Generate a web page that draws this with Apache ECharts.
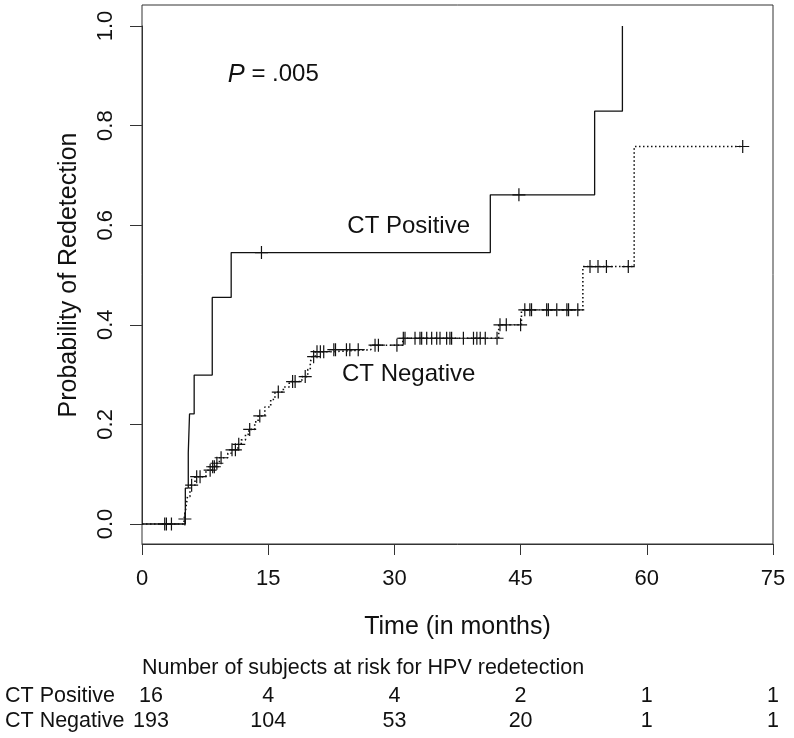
<!DOCTYPE html>
<html><head><meta charset="utf-8">
<script src="https://cdn.jsdelivr.net/npm/echarts@6/dist/echarts.min.js"></script>
<style>html,body{margin:0;padding:0;background:#fff}#c{width:794px;height:738px}</style>
</head><body><div id="c"></div>
<script>
// ---- data ----
const xTicks = [0, 15, 30, 45, 60, 75];
const yTicks = [0, 0.2, 0.4, 0.6, 0.8, 1.0];

// CT Positive Kaplan-Meier steps [time, cumulative probability]
const posSteps = [[0,0],[5.15,0.072],[5.5,0.143],[5.65,0.221],[6.2,0.299],[8.35,0.455],[10.6,0.545],[41.4,0.661],[53.8,0.829],[57.1,1.0]];
const posCensor = [[14.2,0.545],[44.8,0.661]];

// CT Negative Kaplan-Meier steps
const negSteps = [[0,0],[5.0,0.01],[5.2,0.03],[5.4,0.055],[5.7,0.078],[6.3,0.095],[7.6,0.108],[8.3,0.115],[8.8,0.122],[9.2,0.133],[10.2,0.142],[10.6,0.149],[11.4,0.16],[11.8,0.169],[12.3,0.18],[12.7,0.19],[13.4,0.205],[13.8,0.217],[14.6,0.235],[15.3,0.25],[15.8,0.265],[16.8,0.275],[17.5,0.286],[19.0,0.296],[19.7,0.31],[20.0,0.325],[20.2,0.336],[20.6,0.346],[22.6,0.350],[27.2,0.359],[31.0,0.373],[42.4,0.40],[45.1,0.43],[52.4,0.517],[58.5,0.758],[71.4,0.758]];
const negCensor = [
  [2.7,0],[2.9,0],[3.5,0],[5.1,0.01],[5.9,0.078],[6.5,0.095],[6.9,0.095],
  [8.1,0.108],[8.4,0.115],[8.6,0.115],[8.9,0.122],[9.4,0.133],[10.7,0.149],[11.1,0.149],[11.5,0.16],
  [12.8,0.19],[14.0,0.217],[16.2,0.265],[17.9,0.286],[18.2,0.286],[19.4,0.296],[20.4,0.336],
  [20.8,0.346],[21.2,0.346],[21.6,0.346],[22.8,0.35],[23.0,0.35],[24.3,0.35],[24.7,0.35],[25.7,0.35],
  [27.7,0.359],[28.1,0.359],[30.3,0.359],
  [31.06,0.373],[31.26,0.373],[32.45,0.373],[33.04,0.373],[33.24,0.373],[33.84,0.373],[34.43,0.373],
  [35.03,0.373],[35.42,0.373],[36.21,0.373],[36.6,0.373],[36.8,0.373],[38.2,0.373],[39.4,0.373],
  [39.8,0.373],[40.2,0.373],[40.8,0.373],[42.2,0.373],
  [42.55,0.40],[43.3,0.40],[45.0,0.40],
  [45.5,0.43],[46.1,0.43],[46.3,0.43],[48.1,0.43],[48.3,0.43],[49.3,0.43],[50.5,0.43],[50.7,0.43],[51.8,0.43],
  [53.25,0.517],[54.2,0.517],[55.2,0.517],[57.8,0.517],[71.4,0.758]
];

// annotations [time, probability, text]
const annotations = [[15.6,0.902,'{i|P} = .005'],[31.7,0.598,'CT Positive'],[31.7,0.301,'CT Negative']];

// number at risk table
const riskTitle = 'Number of subjects at risk for HPV redetection';
const riskGroups = ['CT Positive', 'CT Negative'];
const riskTimes = [0, 15, 30, 45, 60, 75];
const riskPos = [16, 4, 4, 2, 1, 1];
const riskNeg = [193, 104, 53, 20, 1, 1];

// ---- chart ----
const FONT = '"Liberation Sans", Arial, Helvetica, sans-serif';
const INK = '#111111';
const plus = 'path://M0,-1L0,1M-1,0L1,0';

const riskData = [];
riskTimes.forEach((t, i) => {
  const off = t === 0 ? [9, 0] : [0, 0];
  riskData.push({value: [t, riskGroups[0]], name: String(riskPos[i]), label: {offset: off}});
  riskData.push({value: [t, riskGroups[1]], name: String(riskNeg[i]), label: {offset: off}});
});

const chart = echarts.init(document.getElementById('c'), null, {renderer: 'canvas'});
chart.setOption({
  animation: false,
  backgroundColor: '#fff',
  textStyle: {fontFamily: FONT, color: INK},
  title: {
    text: riskTitle, left: 137, top: 652,
    textStyle: {fontFamily: FONT, fontSize: 21.5, fontWeight: 'normal', color: INK}
  },
  grid: [
    {left: 142, right: 21, top: 26, bottom: 214},
    {left: 142, right: 21, top: 5, bottom: 194, show: true, borderColor: '#333', borderWidth: 1, backgroundColor: 'transparent', z: 0},
    {left: 142, right: 21, top: 684, height: 50}
  ],
  xAxis: [
    {type: 'value', gridIndex: 0, min: 0, max: 75, interval: 15, offset: 20,
     axisLine: {show: true, onZero: false, lineStyle: {color: '#333', width: 1}},
     axisTick: {show: true, length: 11, lineStyle: {color: '#333'}},
     splitLine: {show: false},
     axisLabel: {fontSize: 22, color: INK, margin: 24, fontFamily: FONT},
     name: 'Time (in months)', nameLocation: 'middle', nameGap: 71,
     nameTextStyle: {fontSize: 25, color: INK, fontFamily: FONT}},
    {type: 'value', gridIndex: 1, min: 0, max: 1, show: false},
    {type: 'value', gridIndex: 2, min: 0, max: 75, show: false}
  ],
  yAxis: [
    {type: 'value', gridIndex: 0, min: 0, max: 1, interval: 0.2,
     axisLine: {show: true, onZero: false, lineStyle: {color: '#333', width: 1}},
     axisTick: {show: true, length: 12, lineStyle: {color: '#333'}},
     splitLine: {show: false},
     axisLabel: {fontSize: 22, color: INK, rotate: 90, margin: 25, fontFamily: FONT,
                 formatter: v => v.toFixed(1)},
     name: 'Probability of Redetection', nameLocation: 'middle', nameGap: 60, nameRotate: 90,
     nameTextStyle: {fontSize: 25, color: INK, fontFamily: FONT}},
    {type: 'value', gridIndex: 1, min: 0, max: 1, show: false},
    {type: 'category', gridIndex: 2, data: riskGroups, inverse: true,
     axisLine: {show: false}, axisTick: {show: false},
     axisLabel: {interval: 0, hideOverlap: false, align: 'left', margin: 137, fontSize: 21.5, color: INK, fontFamily: FONT}}
  ],
  series: [
    {type: 'line', name: 'CT Positive', xAxisIndex: 0, yAxisIndex: 0, data: posSteps, step: 'end',
     showSymbol: false, symbol: 'none', clip: false,
     lineStyle: {color: INK, width: 1.3, type: 'solid'}, z: 3},
    {type: 'line', name: 'CT Negative', xAxisIndex: 0, yAxisIndex: 0, data: negSteps, step: 'end',
     showSymbol: false, symbol: 'none', clip: false,
     lineStyle: {color: INK, width: 1.6, type: [1.5, 2.5]}, z: 3},
    {type: 'scatter', xAxisIndex: 0, yAxisIndex: 0, data: posCensor, symbol: plus, symbolSize: 13,
     itemStyle: {color: 'none', borderColor: INK, borderWidth: 1.2, opacity: 1}, z: 4},
    {type: 'scatter', xAxisIndex: 0, yAxisIndex: 0, data: negCensor, symbol: plus, symbolSize: 13,
     itemStyle: {color: 'none', borderColor: INK, borderWidth: 1.2, opacity: 1}, z: 4},
    {type: 'scatter', xAxisIndex: 0, yAxisIndex: 0, symbolSize: 1,
     itemStyle: {color: 'rgba(0,0,0,0)', opacity: 1},
     data: annotations.map(a => ({value: [a[0], a[1]], name: a[2]})),
     label: {show: true, position: 'inside', formatter: p => p.name, fontSize: 24, color: INK, fontFamily: FONT,
             rich: {i: {fontStyle: 'italic', fontSize: 25.5, color: INK, fontFamily: FONT},
                    '': {fontSize: 25.5}}},
     z: 5},
    {type: 'scatter', xAxisIndex: 2, yAxisIndex: 2, symbolSize: 1,
     itemStyle: {color: 'rgba(0,0,0,0)', opacity: 1},
     data: riskData,
     label: {show: true, position: 'inside', formatter: p => p.name, fontSize: 21.5, color: INK, fontFamily: FONT},
     z: 5}
  ]
});
</script></body></html>
